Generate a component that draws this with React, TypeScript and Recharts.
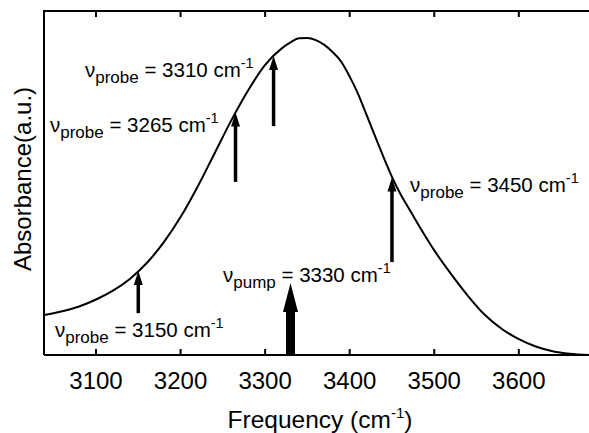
import React from 'react';
import { LineChart, Line, XAxis, YAxis, ReferenceLine, ReferenceDot } from 'recharts';

// Absorbance spectrum (arbitrary units)
const frequencies = [3038.5, 3060, 3080, 3100, 3120, 3140, 3160, 3180, 3200, 3220, 3240, 3260, 3280, 3300, 3320, 3330, 3340, 3350, 3360, 3370, 3380, 3390, 3400, 3410, 3420, 3430, 3440, 3450, 3460, 3470, 3480, 3490, 3500, 3520, 3540, 3560, 3580, 3600, 3620, 3640, 3660, 3683];
const absorbance = [0.126, 0.138, 0.153, 0.175, 0.203, 0.240, 0.290, 0.355, 0.435, 0.530, 0.635, 0.740, 0.835, 0.915, 0.968, 0.986, 0.999, 1.0, 0.993, 0.978, 0.955, 0.925, 0.878, 0.823, 0.757, 0.690, 0.624, 0.562, 0.508, 0.462, 0.416, 0.372, 0.330, 0.255, 0.186, 0.126, 0.082, 0.050, 0.027, 0.012, 0.004, 0.0];

const xTicks = [3100, 3200, 3300, 3400, 3500, 3600];
const xMin = 3038.5;
const xMax = 3683;
const yMax = 1.085;

// probe arrows: frequency, tail value, tip value
const probeFreqs = [3150, 3265, 3310, 3450];
const probeTail = [0.132, 0.546, 0.722, 0.293];
const probeTip = [0.265, 0.765, 0.943, 0.560];

// pump arrow
const pumpFreq = 3330;
const pumpTail = 0;
const pumpTip = 0.227;

// annotation labels: anchor (freq, value), subscript, number
const labelFreqs = [3051.5, 3045.6, 3087, 3471.4, 3250.2];
const labelValues = [0.057, 0.703, 0.877, 0.514, 0.230];
const labelSubs = ['probe', 'probe', 'probe', 'probe', 'pump'];
const labelNums = ['3150', '3265', '3310', '3450', '3330'];

const data = frequencies.map((f, i) => ({ f, a: absorbance[i] }));

const FONT = '"Liberation Sans", Arial, Helvetica, sans-serif';
const W = 589;
const H = 433;
const M_TOP = 11;
const X_AXIS_H = 78;
const Y_AXIS_W = 44;
const TICK_MARGIN = 17;
const PLOT_TOP = M_TOP;
const PLOT_BOTTOM = H - X_AXIS_H;

const makeArrow = (thick: boolean) => (p: any) => {
  const { y1, x2, y2 } = p;
  const bodyW = thick ? 9 : 3.5;
  const headW = thick ? 15 : 9;
  const headL = thick ? 29 : 14;
  const x = x2;
  return (
    <g>
      <rect x={x - bodyW / 2} y={y2 + headL - 1} width={bodyW} height={Math.max(0, y1 - y2 - headL + 1)} fill="#000" />
      <polygon points={`${x},${y2} ${x - headW / 2},${y2 + headL} ${x + headW / 2},${y2 + headL}`} fill="#000" />
    </g>
  );
};

// tick label plus inward tick marks at the bottom and top of the frame
const XTick = (p: any) => {
  const { x, y, payload } = p;
  return (
    <g>
      <rect x={x - 1} y={PLOT_BOTTOM - 6} width={2} height={6} fill="#000" />
      <rect x={x - 1} y={PLOT_TOP} width={2} height={6} fill="#000" />
      <text x={x} y={y} dy="0.71em" textAnchor="middle" fontFamily={FONT} fontSize={24} fill="#000">
        {payload.value}
      </text>
    </g>
  );
};

const makeLabel = (sub: string, num: string) => (p: any) => {
  const { cx, cy } = p;
  return (
    <text x={cx} y={cy} fontFamily={FONT} fontSize={20.5} fill="#000">
      <tspan>ν</tspan>
      <tspan fontSize={17} dy={6}>{sub}</tspan>
      <tspan dy={-6}>{` = ${num} cm`}</tspan>
      <tspan fontSize={14.5} dy={-9}>-1</tspan>
    </text>
  );
};

const XTitle = () => (
  <text x={320} y={428} textAnchor="middle" fontFamily={FONT} fontSize={24.5} fill="#000">
    <tspan>Frequency (cm</tspan>
    <tspan fontSize={15} dy={-10}>-1</tspan>
    <tspan dy={10}>)</tspan>
  </text>
);

// y-axis title, plus the top edge of the frame
const YTitle = () => (
  <g>
    <rect x={Y_AXIS_W - 1} y={PLOT_TOP - 1} width={W - Y_AXIS_W + 1} height={2} fill="#000" />
    <text transform="rotate(-90)" x={-179} y={31} textAnchor="middle" fontFamily={FONT} fontSize={24} fill="#000">
      Absorbance(a.u.)
    </text>
  </g>
);

export default function App() {
  return (
    <div style={{ position: 'absolute', left: 0, top: 0, width: W, height: H, background: '#fff' }}>
      <LineChart width={W} height={H} data={data} margin={{ top: M_TOP, right: 0, bottom: 0, left: 0 }}>
        <XAxis
          dataKey="f"
          type="number"
          domain={[xMin, xMax]}
          ticks={xTicks}
          allowDataOverflow
          height={X_AXIS_H}
          tickSize={0}
          tickMargin={TICK_MARGIN}
          axisLine={{ stroke: '#000', strokeWidth: 2 }}
          tickLine={false}
          tick={XTick}
          label={XTitle}
        />
        <YAxis
          type="number"
          domain={[0, yMax]}
          allowDataOverflow
          width={Y_AXIS_W}
          tick={false}
          tickLine={false}
          axisLine={{ stroke: '#000', strokeWidth: 2 }}
          label={YTitle}
        />
        <Line type="monotone" dataKey="a" stroke="#000" strokeWidth={2} dot={false} isAnimationActive={false} />
        {probeFreqs.map((f, i) => (
          <ReferenceLine
            key={'p' + i}
            segment={[{ x: f, y: probeTail[i] }, { x: f, y: probeTip[i] }]}
            shape={makeArrow(false)}
          />
        ))}
        <ReferenceLine
          segment={[{ x: pumpFreq, y: pumpTail }, { x: pumpFreq, y: pumpTip }]}
          shape={makeArrow(true)}
        />
        {labelFreqs.map((f, i) => (
          <ReferenceDot key={'l' + i} x={f} y={labelValues[i]} r={0} shape={makeLabel(labelSubs[i], labelNums[i])} />
        ))}
      </LineChart>
      <div
        style={{
          position: 'absolute',
          left: Y_AXIS_W - 1,
          top: PLOT_TOP - 1,
          width: W - Y_AXIS_W + 1,
          height: 2,
          background: '#000',
        }}
      />
    </div>
  );
}
